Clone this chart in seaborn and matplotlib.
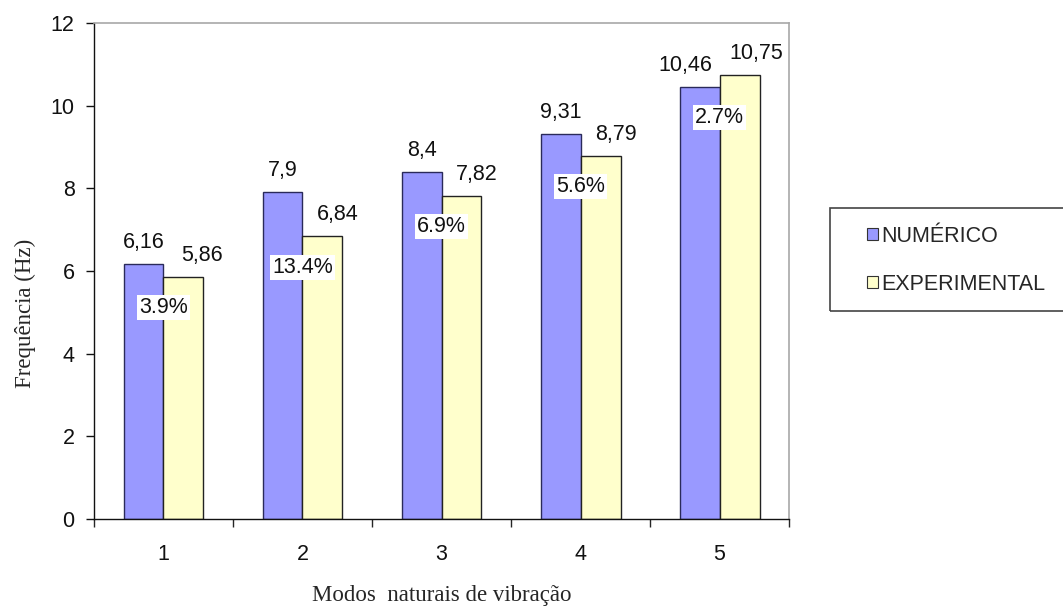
import seaborn as sns
import matplotlib.pyplot as plt
from matplotlib.patches import Rectangle
import pandas as pd

# Data
modos = ["1", "2", "3", "4", "5"]
numerico = [6.16, 7.9, 8.4, 9.31, 10.46]
experimental = [5.86, 6.84, 7.82, 8.79, 10.75]
diferenca = ["3.9%", "13.4%", "6.9%", "5.6%", "2.7%"]
series = ["NUMÉRICO", "EXPERIMENTAL"]

df = pd.DataFrame({
    "modo": modos * 2,
    "freq": numerico + experimental,
    "serie": [series[0]] * len(modos) + [series[1]] * len(modos),
})

sns.set_style("white")
plt.rcParams['font.family'] = ['Liberation Sans', 'DejaVu Sans']
FS = 15.5

fig = plt.figure(figsize=(10.63, 6.06), dpi=100)
ax = fig.add_axes([0.0884, 0.1436, 0.6539, 0.8184])

sns.barplot(data=df, x="modo", y="freq", hue="serie", order=modos,
            palette=["#9999FF", "#FFFFCC"], width=0.575, saturation=1,
            linewidth=1.0, ax=ax)

# edge colours per series
for cont, ec in zip(ax.containers, ["#2a2a5a", "#222222"]):
    for bar in cont:
        bar.set_edgecolor(ec)

# value labels above bars
label_dx = [[0, 0, 0, 0, -10], [13, 11, 11, 11, 12]]
for s, cont in enumerate(ax.containers):
    vals = numerico if s == 0 else experimental
    for i, bar in enumerate(cont):
        xc = bar.get_x() + bar.get_width() / 2
        ax.annotate(f"{vals[i]:g}".replace(".", ","), (xc, vals[i]),
                    xytext=(label_dx[s][i], 15.5), textcoords="offset points",
                    ha="center", va="center", fontsize=FS, color="#111111")

# percentage difference labels
for i, txt in enumerate(diferenca):
    ax.text(i, min(numerico[i], experimental[i]) - 0.75, txt,
            ha="center", va="center", fontsize=FS, color="#111111",
            bbox=dict(facecolor="white", edgecolor="none", pad=1.5))

ax.set_ylim(0, 12)
ax.set_xlim(-0.5, 4.5)
ax.set_yticks(range(0, 13, 2))
ax.tick_params(axis="y", labelsize=FS, length=6, width=1, direction="out",
               left=True, pad=8, colors="#111111")

# ticks between categories, labels at centers
ax.set_xticks([-0.5, 0.5, 1.5, 2.5, 3.5, 4.5])
ax.set_xticklabels([])
ax.set_xticks(range(len(modos)), minor=True)
ax.tick_params(axis="x", which="major", length=6, width=1, direction="out", bottom=True)
ax.set_xticklabels(modos, minor=True)
ax.tick_params(axis="x", which="minor", length=0, labelsize=FS, pad=18, colors="#111111")

for side in ["left", "bottom"]:
    ax.spines[side].set_color("#111111")
    ax.spines[side].set_linewidth(1)
for side in ["top", "right"]:
    ax.spines[side].set_color("#a8a8a8")
    ax.spines[side].set_linewidth(1.2)

ax.set_xlabel("Modos  naturais de vibração", family="Liberation Serif", fontsize=16.5)
ax.set_ylabel("Frequência (Hz)", family="Liberation Serif", fontsize=16.5)
ax.xaxis.set_label_coords(0.5, -0.133)
ax.yaxis.set_label_coords(-0.084, 0.415)

# legend frame (runs off the right edge like the original)
fig.patches.append(Rectangle((830 / 1063, 1 - 311 / 606), 0.3, 103 / 606,
                             transform=fig.transFigure, fill=False,
                             edgecolor="#444444", linewidth=1.2))
leg = ax.legend(loc="upper left", bbox_to_anchor=(867 / 1063, 1 - 226 / 606),
                bbox_transform=fig.transFigure, frameon=False,
                fontsize=FS, handlelength=0.5, handleheight=0.5,
                handletextpad=0.15, labelspacing=1.25, borderpad=0,
                borderaxespad=0, title=None)
for h in leg.legend_handles:
    h.set_edgecolor("#333333")
    h.set_linewidth(0.8)

fig.savefig("out.png", dpi=100)
